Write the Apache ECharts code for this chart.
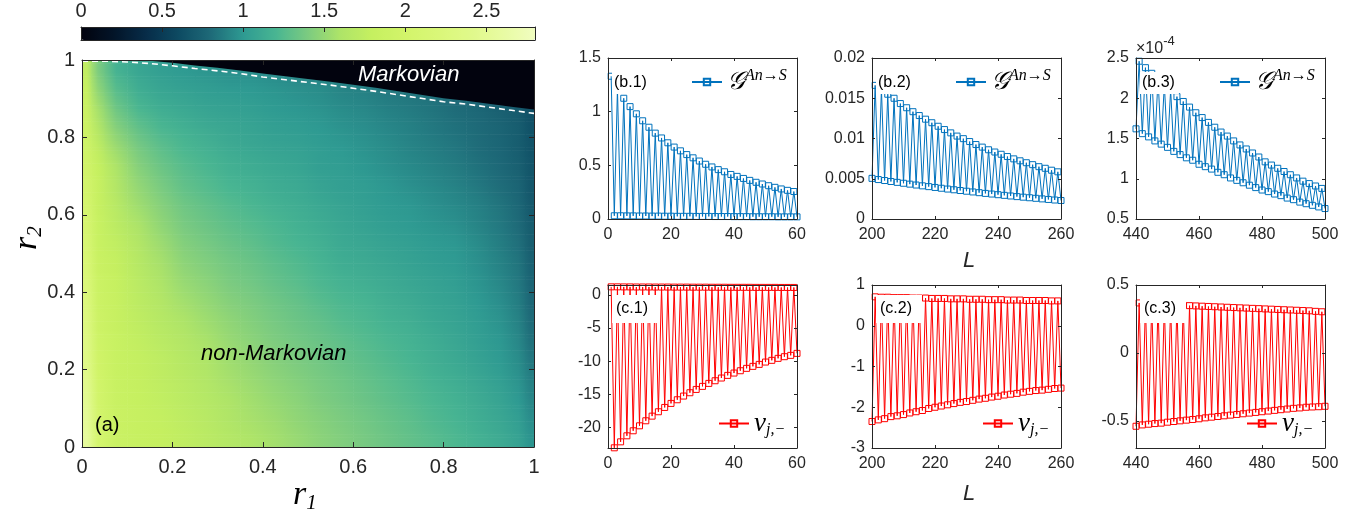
<!DOCTYPE html>
<html><head><meta charset="utf-8">
<script src="https://cdn.jsdelivr.net/npm/echarts@6/dist/echarts.min.js"></script>
<style>html,body{margin:0;padding:0;background:#fff}#c{width:1372px;height:523px}</style>
</head><body><div id="c"></div>
<script>
// ---------- DATA ----------
// colour scale of panel (a)
const colorScale = ['#02030e','#031428','#072c48','#0d4a62','#1e6a78','#2e9a92','#48b592','#7ccb80','#aee468','#c6f060','#d2f46a','#daf778','#e0f98a','#e8fba2','#f0fdc0'];
const cbTicks = [0, 0.5, 1, 1.5, 2, 2.5];
// heat-map cell edges (r1 columns, r2 rows)
const r1Edges = [0,0.02,0.05,0.1,0.15,0.2,0.25,0.3,0.35,0.4,0.45,0.5,0.55,0.6,0.65,0.7,0.75,0.8,0.85,0.9,0.95,0.98,1];
const r2Edges = [0,0.05,0.1,0.15,0.2,0.25,0.3,0.35,0.4,0.45,0.5,0.55,0.6,0.65,0.7,0.75,0.8,0.85,0.9,0.95,1];
// values, rows from r2=0 (bottom) to r2=1 (top)
const heatRows = [
[2.55,2.05,1.87,1.82,1.79,1.75,1.70,1.65,1.60,1.56,1.51,1.46,1.42,1.38,1.34,1.30,1.26,1.22,1.17,1.12,1.06,0.98],
[2.51,2.03,1.86,1.81,1.78,1.73,1.68,1.62,1.57,1.53,1.48,1.44,1.40,1.36,1.32,1.28,1.23,1.19,1.14,1.09,1.03,0.95],
[2.46,2.01,1.85,1.80,1.76,1.71,1.66,1.60,1.55,1.50,1.46,1.41,1.37,1.33,1.29,1.25,1.21,1.17,1.12,1.07,1.00,0.92],
[2.42,1.98,1.84,1.79,1.74,1.69,1.63,1.57,1.52,1.47,1.43,1.39,1.35,1.31,1.27,1.23,1.18,1.14,1.09,1.04,0.97,0.89],
[2.37,1.96,1.83,1.78,1.73,1.67,1.61,1.54,1.49,1.44,1.40,1.36,1.32,1.28,1.24,1.20,1.15,1.11,1.06,1.01,0.94,0.86],
[2.33,1.94,1.83,1.77,1.70,1.64,1.58,1.51,1.46,1.41,1.37,1.33,1.29,1.25,1.21,1.18,1.13,1.09,1.04,0.99,0.92,0.83],
[2.29,1.92,1.82,1.74,1.67,1.60,1.54,1.48,1.43,1.38,1.34,1.30,1.25,1.22,1.18,1.15,1.10,1.07,1.02,0.97,0.90,0.81],
[2.25,1.90,1.81,1.72,1.64,1.56,1.50,1.44,1.40,1.35,1.31,1.26,1.22,1.19,1.15,1.12,1.08,1.05,1.00,0.95,0.88,0.79],
[2.21,1.88,1.80,1.70,1.60,1.51,1.46,1.40,1.36,1.31,1.27,1.22,1.18,1.15,1.12,1.09,1.06,1.03,0.98,0.92,0.86,0.77],
[2.17,1.86,1.79,1.67,1.57,1.47,1.42,1.37,1.33,1.28,1.24,1.19,1.14,1.12,1.09,1.06,1.03,1.01,0.96,0.90,0.84,0.75],
[2.13,1.84,1.76,1.64,1.53,1.43,1.38,1.33,1.29,1.24,1.20,1.16,1.11,1.09,1.06,1.04,1.01,0.99,0.94,0.88,0.82,0.73],
[2.09,1.83,1.72,1.59,1.48,1.39,1.34,1.29,1.25,1.21,1.17,1.13,1.09,1.06,1.03,1.01,0.98,0.96,0.91,0.86,0.80,0.72],
[2.05,1.82,1.68,1.54,1.44,1.35,1.30,1.25,1.21,1.17,1.14,1.10,1.07,1.04,1.01,0.99,0.96,0.93,0.89,0.84,0.78,0.70],
[2.01,1.81,1.64,1.49,1.39,1.30,1.25,1.20,1.17,1.13,1.11,1.07,1.04,1.02,0.99,0.96,0.93,0.90,0.86,0.81,0.76,0.68],
[1.97,1.80,1.60,1.44,1.34,1.26,1.21,1.16,1.13,1.10,1.08,1.04,1.02,0.99,0.96,0.93,0.90,0.87,0.83,0.79,0.74,0.67],
[1.93,1.74,1.53,1.38,1.28,1.21,1.17,1.12,1.09,1.07,1.05,1.02,1.00,0.97,0.94,0.91,0.88,0.85,0.81,0.77,0.72,0.66],
[1.90,1.65,1.44,1.30,1.21,1.16,1.12,1.09,1.07,1.04,1.02,1.00,0.97,0.95,0.92,0.89,0.86,0.83,0.80,0.76,0.72,0.65],
[1.87,1.57,1.35,1.21,1.14,1.10,1.07,1.05,1.04,1.01,0.99,0.97,0.94,0.92,0.89,0.87,0.84,0.81,0.78,0.74,0.70,0.64],
[1.82,1.48,1.26,1.14,1.08,1.05,1.03,1.01,1.00,0.98,0.96,0.94,0.91,0.89,0.86,0.84,0.82,0.79,0.76,0.72,0.69,0.63],
[1.75,1.40,1.18,1.08,1.03,1.00,0.98,0.96,0.95,0.93,0.91,0.89,0.87,0.85,0.83,0.81,0.79,0.77,0.74,0.71,0.68,0.62]
];
// Markovian / non-Markovian boundary
const boundaryR1   = [0,0.05,0.1,0.15,0.2,0.25,0.3,0.35,0.4,0.45,0.5,0.55,0.6,0.65,0.7,0.75,0.8,0.85,0.9,0.95,1];
const dashedR2     = [0.997,0.997,0.995,0.991,0.985,0.978,0.972,0.965,0.956,0.949,0.942,0.935,0.927,0.919,0.910,0.901,0.892,0.886,0.878,0.870,0.862];
const markovEdgeR2 = [1.0,1.0,1.0,0.998,0.993,0.986,0.980,0.973,0.965,0.958,0.951,0.944,0.936,0.928,0.919,0.910,0.901,0.895,0.887,0.879,0.872];

// right panels: L starts, peaks (upper points) and troughs (lower points)
const b1Start = 1;
const b1Peaks   = [1.33,1.21,1.125,1.047,0.98,0.915,0.855,0.80,0.755,0.71,0.67,0.635,0.60,0.57,0.54,0.51,0.485,0.46,0.44,0.415,0.397,0.378,0.36,0.342,0.326,0.31,0.295,0.28,0.267,0.256];
const b1Troughs = [0.030,0.030,0.029,0.029,0.028,0.028,0.027,0.027,0.026,0.026,0.025,0.025,0.025,0.024,0.024,0.024,0.023,0.023,0.023,0.022,0.022,0.022,0.021,0.021,0.021,0.021,0.020,0.020,0.020,0.020];
const b2Start = 200;
const b2Peaks   = [0.0166,0.0161,0.0155,0.0150,0.01434,0.01382,0.01333,0.01285,0.0124,0.01196,0.01152,0.01111,0.0107,0.0103,0.00998,0.00962,0.00925,0.00893,0.0086,0.00832,0.00804,0.00776,0.00747,0.00723,0.00699,0.00675,0.0065,0.0063,0.00606,0.00586];
const b2Troughs = [0.00505,0.00490,0.00478,0.00466,0.00455,0.00444,0.00433,0.00422,0.00412,0.00402,0.00392,0.00382,0.00372,0.00363,0.00354,0.00345,0.00336,0.00327,0.00318,0.00310,0.00302,0.00294,0.00286,0.00278,0.00271,0.00264,0.00257,0.00250,0.00243,0.00236,0.00230];
const b3Start = 440; // values in units of 1e-4
const b3Peaks   = [2.46,2.38,2.31,2.24,2.17,2.10,2.02,1.96,1.89,1.82,1.76,1.70,1.64,1.58,1.53,1.47,1.42,1.37,1.32,1.27,1.21,1.17,1.13,1.09,1.05,1.01,0.97,0.94,0.91,0.88];
const b3Troughs = [1.62,1.56,1.52,1.47,1.43,1.39,1.34,1.30,1.26,1.23,1.18,1.15,1.12,1.08,1.05,1.01,0.98,0.95,0.92,0.89,0.86,0.84,0.81,0.79,0.76,0.74,0.71,0.69,0.67,0.65,0.63];
const c1Start = 1;
const c1Peaks   = [1.22,1.22,1.21,1.21,1.2,1.2,1.2,1.19,1.19,1.19,1.18,1.18,1.18,1.17,1.17,1.17,1.16,1.16,1.16,1.15,1.15,1.15,1.15,1.14,1.14,1.14,1.14,1.13,1.13,1.13];
const c1Troughs = [-23.07,-22.17,-21.26,-20.5,-19.75,-18.99,-18.29,-17.63,-16.98,-16.37,-15.82,-15.26,-14.76,-14.26,-13.8,-13.35,-12.95,-12.54,-12.14,-11.79,-11.44,-11.08,-10.78,-10.48,-10.13,-9.87,-9.57,-9.32,-9.12,-8.82];
const c2Start = 200;
const c2Peaks   = [0.71,0.70,0.70,0.69,0.69,0.69,0.68,0.68,0.68,0.67,0.67,0.67,0.66,0.66,0.66,0.65,0.65,0.65,0.64,0.64,0.64,0.63,0.63,0.63,0.62,0.62,0.62,0.62,0.61,0.61];
const c2Troughs = [-2.35,-2.31,-2.28,-2.23,-2.21,-2.18,-2.14,-2.11,-2.08,-2.03,-2.0,-1.97,-1.94,-1.91,-1.88,-1.86,-1.83,-1.8,-1.78,-1.75,-1.73,-1.7,-1.68,-1.66,-1.63,-1.61,-1.59,-1.58,-1.56,-1.54,-1.53];
const c3Start = 440;
const c3Peaks   = [0.368,0.365,0.362,0.36,0.358,0.355,0.353,0.35,0.348,0.346,0.344,0.342,0.34,0.338,0.336,0.334,0.332,0.33,0.328,0.326,0.324,0.322,0.32,0.318,0.316,0.314,0.312,0.31,0.306,0.303];
const c3Troughs = [-0.54,-0.53,-0.525,-0.52,-0.517,-0.51,-0.505,-0.50,-0.495,-0.49,-0.485,-0.478,-0.473,-0.468,-0.463,-0.458,-0.453,-0.448,-0.443,-0.438,-0.433,-0.428,-0.423,-0.418,-0.413,-0.408,-0.405,-0.40,-0.398,-0.396,-0.393];

// tick labels
const heatTicks = [0,0.2,0.4,0.6,0.8,1];
const b1YTicks = [0,0.5,1,1.5], b2YTicks = [0,0.005,0.01,0.015,0.02], b3YTicks = [0.5,1,1.5,2,2.5];
const c1YTicks = [-20,-15,-10,-5,0], c2YTicks = [-3,-2,-1,0,1], c3YTicks = [-0.5,0,0.5];
const xTicksA = [0,20,40,60], xTicksB = [200,220,240,260], xTicksC = [440,460,480,500];

// ---------- BUILD ----------
const AX = '#262626';
const SANS = '"Liberation Sans", Arial, Helvetica, sans-serif';
const SERIF = '"Liberation Serif", "DejaVu Serif", serif';

function zigzag(start, peaks, troughs, peakFirst) {
  const out = []; let pi = 0, ti = 0;
  const n = peaks.length + troughs.length;
  for (let k = 0; k < n; k++) {
    const isPeak = ((k % 2) === 0) === peakFirst;
    out.push([start + k, isPeak ? peaks[pi++] : troughs[ti++]]);
  }
  return out;
}

const grids = [], xAxes = [], yAxes = [], series = [], legends = [], graphics = [];

function boxAxes(gi, xr, xt, yr, yt, fs, tickLen, xMargin) {
  const common = (pos, isX, range, ticks, showLab) => ({
    type: 'value', gridIndex: gi, position: pos, min: range[0], max: range[1],
    axisLine: { show: true, onZero: false, lineStyle: { color: AX, width: 1 } },
    axisTick: { show: true, inside: true, length: tickLen, customValues: ticks, lineStyle: { color: AX, width: 1 } },
    axisLabel: { show: showLab, customValues: ticks, color: AX, fontSize: fs, fontFamily: SANS, margin: isX ? xMargin : 7 },
    splitLine: { show: false }, z: 10
  });
  const xi = xAxes.length, yi = yAxes.length;
  xAxes.push(common('bottom', true, xr, xt, true));
  xAxes.push(common('top', true, xr, xt, false));
  yAxes.push(common('left', false, yr, yt, true));
  yAxes.push(common('right', false, yr, yt, false));
  return [xi, yi];
}

// panel (a)
grids.push({ left: 82, top: 60, width: 452, height: 387 });
const [ax0, ay0] = boxAxes(0, [0, 1], heatTicks, [0, 1], heatTicks, 20, 5, 10);
const NC = r1Edges.length - 1, NR = r2Edges.length - 1;
const cells = [];
heatRows.forEach((row, j) => row.forEach((v, i) => {
  cells.push([r1Edges[i], r1Edges[i + 1], r2Edges[j], r2Edges[j + 1], v]);
}));
const SUB = 6;
const clampI = (v, lo, hi) => Math.max(lo, Math.min(hi, v));
series.push({
  type: 'custom', xAxisIndex: ax0, yAxisIndex: ay0, data: cells, silent: true,
  encode: { x: [0, 1], y: [2, 3] }, z: 1,
  renderItem: function (params, api) {
    const idx = params.dataIndexInside;
    const i = idx % NC, j = Math.floor(idx / NC);
    const colorOf = (ii, jj) => api.visual('color', clampI(jj, 0, NR - 1) * NC + clampI(ii, 0, NC - 1));
    const x0 = r1Edges[i], x1 = r1Edges[i + 1], w = x1 - x0, cS = (x0 + x1) / 2;
    const cL = i > 0 ? (r1Edges[i - 1] + r1Edges[i]) / 2 : cS - w;
    const cR = i < NC - 1 ? (r1Edges[i + 1] + r1Edges[i + 2]) / 2 : cS + w;
    const gx0 = (cL - x0) / w, gx1 = (cR - x0) / w, mid = (cS - cL) / (cR - cL);
    const children = [];
    for (let k = 0; k < SUB; k++) {
      const ty = (k + 0.5) / SUB;
      const jn = ty < 0.5 ? j - 1 : j + 1;
      const t = Math.abs(ty - 0.5);
      const mix = (ii) => echarts.color.lerp(t, [colorOf(ii, j), colorOf(ii, jn)]);
      const yb = r2Edges[j] + (r2Edges[j + 1] - r2Edges[j]) * k / SUB;
      const yt = r2Edges[j] + (r2Edges[j + 1] - r2Edges[j]) * (k + 1) / SUB;
      const p0 = api.coord([x0, yt]), p1 = api.coord([x1, yb]);
      children.push({ type: 'rect',
        shape: { x: p0[0], y: p0[1], width: p1[0] - p0[0] + 0.6, height: p1[1] - p0[1] + 0.6 },
        style: { fill: new echarts.graphic.LinearGradient(gx0, 0, gx1, 0,
          [{ offset: 0, color: mix(i - 1) }, { offset: mid, color: mix(i) }, { offset: 1, color: mix(i + 1) }]) } });
    }
    return { type: 'group', children: children };
  }
});
series.push({
  type: 'line', xAxisIndex: ax0, yAxisIndex: ay0, silent: true, symbol: 'none', z: 3,
  data: boundaryR1.map((x, i) => [x, markovEdgeR2[i]]),
  lineStyle: { width: 0 }, areaStyle: { color: '#02030e', opacity: 1, origin: 'end' }
});
series.push({
  type: 'line', xAxisIndex: ax0, yAxisIndex: ay0, silent: true, symbol: 'none', z: 4,
  data: boundaryR1.map((x, i) => [x, dashedR2[i]]),
  lineStyle: { color: '#ffffff', width: 1.6, type: [6, 4] }
});

// colour bar axes
grids.push({ left: 81, top: 27, width: 454, height: 13 });
xAxes.push({ type: 'value', gridIndex: 1, position: 'top', min: 0, max: 2.8,
  axisLine: { show: true, onZero: false, lineStyle: { color: AX } },
  axisTick: { show: true, inside: true, length: 5, customValues: cbTicks, lineStyle: { color: AX } },
  axisLabel: { show: true, customValues: cbTicks, color: AX, fontSize: 20, fontFamily: SANS, margin: 6 },
  splitLine: { show: false }, z: 10 });
xAxes.push({ type: 'value', gridIndex: 1, position: 'bottom', min: 0, max: 2.8,
  axisLine: { show: true, onZero: false, lineStyle: { color: AX } }, axisTick: { show: false },
  axisLabel: { show: false }, splitLine: { show: false }, z: 10 });
yAxes.push({ type: 'value', gridIndex: 1, position: 'left', min: 0, max: 1,
  axisLine: { show: true, onZero: false, lineStyle: { color: AX } }, axisTick: { show: false },
  axisLabel: { show: false }, splitLine: { show: false }, z: 10 });
yAxes.push({ type: 'value', gridIndex: 1, position: 'right', min: 0, max: 1,
  axisLine: { show: true, onZero: false, lineStyle: { color: AX } }, axisTick: { show: false },
  axisLabel: { show: false }, splitLine: { show: false }, z: 10 });

// right panels
const BLUE = '#0072BD', RED = '#FF0000';
const panels = [
  { left: 608, top: 58, h: 161, xr: [0, 60], xt: xTicksA, yr: [0, 1.5], yt: b1YTicks, st: b1Start, pk: b1Peaks, tr: b1Troughs, pf: true, col: BLUE, name: 'b1', lab: '(b.1)', g: true },
  { left: 872, top: 58, h: 161, xr: [200, 260], xt: xTicksB, yr: [0, 0.02], yt: b2YTicks, st: b2Start, pk: b2Peaks, tr: b2Troughs, pf: false, col: BLUE, name: 'b2', lab: '(b.2)', g: true },
  { left: 1136, top: 58, h: 161, xr: [440, 500], xt: xTicksC, yr: [0.5, 2.5], yt: b3YTicks, st: b3Start, pk: b3Peaks, tr: b3Troughs, pf: false, col: BLUE, name: 'b3', lab: '(b.3)', g: true },
  { left: 608, top: 285, h: 163, xr: [0, 60], xt: xTicksA, yr: [-23.1, 1.5], yt: c1YTicks, st: c1Start, pk: c1Peaks, tr: c1Troughs, pf: true, col: RED, name: 'c1', lab: '(c.1)', g: false },
  { left: 872, top: 285, h: 163, xr: [200, 260], xt: xTicksB, yr: [-3, 1], yt: c2YTicks, st: c2Start, pk: c2Peaks, tr: c2Troughs, pf: false, col: RED, name: 'c2', lab: '(c.2)', g: false },
  { left: 1136, top: 285, h: 163, xr: [440, 500], xt: xTicksC, yr: [-0.7, 0.5], yt: c3YTicks, st: c3Start, pk: c3Peaks, tr: c3Troughs, pf: false, col: RED, name: 'c3', lab: '(c.3)', g: false }
];
panels.forEach((p) => {
  const gi = grids.length;
  grids.push({ left: p.left, top: p.top, width: 189, height: p.h });
  const [xi, yi] = boxAxes(gi, p.xr, p.xt, p.yr, p.yt, 16, 3, 8);
  series.push({
    type: 'line', name: p.name, xAxisIndex: xi, yAxisIndex: yi, data: zigzag(p.st, p.pk, p.tr, p.pf),
    symbol: 'rect', symbolSize: 6, showAllSymbol: true, color: p.col,
    lineStyle: { color: p.col, width: 1 },
    itemStyle: { color: 'rgba(255,255,255,0)', borderColor: p.col, borderWidth: 1 },
    z: 2, silent: true
  });
  const rich = p.g
    ? { g: { fontFamily: SERIF, fontStyle: 'italic', fontSize: 25, color: '#000', lineHeight: 28 },
        s: { fontFamily: SERIF, fontStyle: 'italic', fontSize: 16, color: '#000', verticalAlign: 'top', lineHeight: 28 } }
    : { g: { fontFamily: SERIF, fontStyle: 'italic', fontSize: 27, color: '#000', lineHeight: 28 },
        s: { fontFamily: SERIF, fontStyle: 'italic', fontSize: 16, color: '#000', verticalAlign: 'bottom', lineHeight: 28 } };
  legends.push({
    data: [p.name], selectedMode: false, padding: 0,
    left: p.left + (p.g ? 83 : 110), top: p.g ? 68 : p.top + 125,
    itemWidth: 30, itemHeight: 8,
    formatter: () => p.g ? '{g|𝒢}{s|An→S}' : '{g|ν}{s|j,−}',
    textStyle: { rich: rich }
  });
  graphics.push({ type: 'text', z: 100, left: p.left + 4, top: p.g ? p.top + 14 : p.top + 10,
    style: { text: p.lab, font: '16px ' + SANS, fill: '#000', backgroundColor: '#fff', padding: p.g ? [3, 4, 3, 2] : [6, 10, 6, 4] } });
});

// annotations
graphics.push({ type: 'text', z: 100, left: 358, top: 64, style: { text: 'Markovian', font: 'italic 22px ' + SANS, fill: '#fff' } });
graphics.push({ type: 'text', z: 100, left: 201, top: 343, style: { text: 'non-Markovian', font: 'italic 22px ' + SANS, fill: '#000' } });
graphics.push({ type: 'text', z: 100, left: 95, top: 415, style: { text: '(a)', font: '20px ' + SANS, fill: '#000' } });
graphics.push({ type: 'text', z: 100, left: 293, top: 478,
  style: { text: '{r|r}{s|1}', rich: { r: { fontFamily: SERIF, fontStyle: 'italic', fontSize: 34, fill: '#000', lineHeight: 38 },
    s: { fontFamily: SERIF, fontStyle: 'italic', fontSize: 21, fill: '#000', verticalAlign: 'bottom', lineHeight: 38 } } } });
graphics.push({ type: 'text', z: 100, x: 8, y: 250, rotation: Math.PI / 2,
  style: { text: '{r|r}{s|2}', rich: { r: { fontFamily: SERIF, fontStyle: 'italic', fontSize: 34, fill: '#000', lineHeight: 38 },
    s: { fontFamily: SERIF, fontStyle: 'italic', fontSize: 21, fill: '#000', verticalAlign: 'bottom', lineHeight: 38 } } } });
graphics.push({ type: 'text', z: 100, left: 963, top: 250, style: { text: 'L', font: 'italic 22px ' + SANS, fill: AX } });
graphics.push({ type: 'text', z: 100, left: 963, top: 483, style: { text: 'L', font: 'italic 22px ' + SANS, fill: AX } });
graphics.push({ type: 'text', z: 100, left: 1136, top: 35,
  style: { text: '{a|×10}{b|-4}', rich: { a: { fontFamily: SANS, fontSize: 16, fill: AX, verticalAlign: 'bottom', lineHeight: 22 },
    b: { fontFamily: SANS, fontSize: 13, fill: AX, verticalAlign: 'top', lineHeight: 22 } } } });

const chart = echarts.init(document.getElementById('c'), null, { renderer: 'canvas' });
chart.setOption({
  backgroundColor: '#ffffff', animation: false,
  grid: grids, xAxis: xAxes, yAxis: yAxes, series: series, legend: legends,
  visualMap: [{ type: 'continuous', min: 0, max: 2.8, dimension: 4, seriesIndex: 0,
    inRange: { color: colorScale }, orient: 'horizontal', left: 81, top: 27,
    itemWidth: 13, itemHeight: 454, calculable: false, text: null, padding: 0, realtime: false,
    textStyle: { fontSize: 0 } }],
  graphic: graphics
});
</script></body></html>
